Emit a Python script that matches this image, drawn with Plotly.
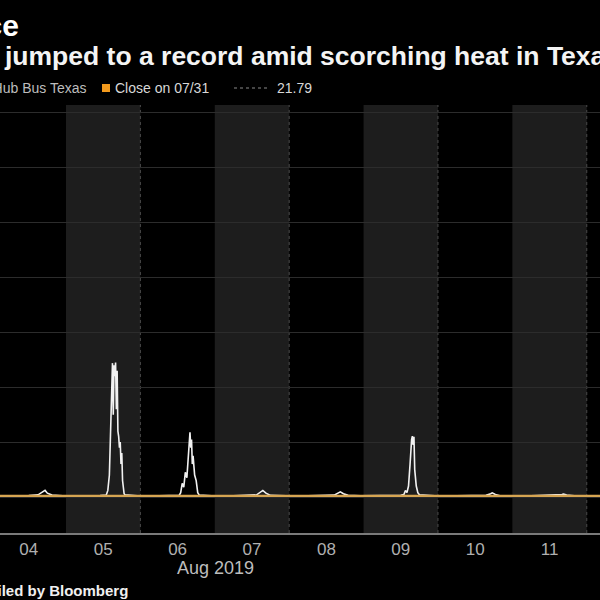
import plotly.graph_objects as go

# ---------------- data ----------------
times = [
    "2019-08-04 00:00", "2019-08-04 06:00", "2019-08-04 12:00", "2019-08-04 15:00",
    "2019-08-04 16:30", "2019-08-04 17:15", "2019-08-04 18:00", "2019-08-04 19:30",
    "2019-08-04 23:00",
    "2019-08-05 06:00", "2019-08-05 11:00", "2019-08-05 13:00", "2019-08-05 13:30",
    "2019-08-05 14:00", "2019-08-05 14:15", "2019-08-05 14:30", "2019-08-05 14:45",
    "2019-08-05 15:00", "2019-08-05 15:15", "2019-08-05 15:30", "2019-08-05 15:45",
    "2019-08-05 16:00", "2019-08-05 16:15", "2019-08-05 16:30", "2019-08-05 16:45",
    "2019-08-05 17:00", "2019-08-05 17:15", "2019-08-05 17:30", "2019-08-05 17:45",
    "2019-08-05 18:00", "2019-08-05 18:15", "2019-08-05 18:30", "2019-08-05 18:45",
    "2019-08-05 19:00", "2019-08-05 23:00",
    "2019-08-06 06:00", "2019-08-06 12:30", "2019-08-06 13:00", "2019-08-06 13:30",
    "2019-08-06 14:00", "2019-08-06 14:30", "2019-08-06 15:00", "2019-08-06 15:30",
    "2019-08-06 15:45", "2019-08-06 16:00", "2019-08-06 16:15", "2019-08-06 16:30",
    "2019-08-06 16:45", "2019-08-06 17:00", "2019-08-06 17:30", "2019-08-06 18:00",
    "2019-08-06 18:30", "2019-08-06 19:00", "2019-08-06 23:00",
    "2019-08-07 06:00", "2019-08-07 13:30", "2019-08-07 15:00", "2019-08-07 15:30",
    "2019-08-07 16:30", "2019-08-07 18:00", "2019-08-07 23:00",
    "2019-08-08 06:00", "2019-08-08 14:30", "2019-08-08 16:00", "2019-08-08 16:30",
    "2019-08-08 17:30", "2019-08-08 19:00", "2019-08-08 23:00",
    "2019-08-09 06:00", "2019-08-09 12:00", "2019-08-09 13:00", "2019-08-09 13:30",
    "2019-08-09 14:00", "2019-08-09 14:30", "2019-08-09 15:00", "2019-08-09 15:15",
    "2019-08-09 15:30", "2019-08-09 15:45", "2019-08-09 16:00", "2019-08-09 16:15",
    "2019-08-09 16:30", "2019-08-09 17:00", "2019-08-09 17:30", "2019-08-09 18:00",
    "2019-08-09 23:00",
    "2019-08-10 06:00", "2019-08-10 15:30", "2019-08-10 17:00", "2019-08-10 17:30",
    "2019-08-10 18:30", "2019-08-10 20:00",
    "2019-08-11 06:00", "2019-08-11 14:30", "2019-08-11 16:00", "2019-08-11 16:30",
    "2019-08-11 17:30", "2019-08-11 20:00", "2019-08-12 06:00",
]
prices = [
    22, 18, 25, 40,
    95, 120, 70, 35,
    22,
    20, 28, 35, 120,
    400, 900, 1300, 1900,
    2440, 1500, 2400, 2200,
    2450, 1600, 2300, 1200,
    1100, 900, 1000, 600,
    800, 300, 120, 60,
    40, 24,
    20, 30, 80, 250,
    180, 450, 350, 700,
    1000, 1180, 900, 1050,
    600, 750, 400, 300,
    80, 35, 22,
    20, 40, 90, 120,
    70, 30, 22,
    20, 35, 80, 95,
    60, 30, 22,
    20, 30, 45, 120,
    80, 200, 600, 900,
    1050, 1110, 950, 1100,
    500, 200, 80, 40,
    22,
    20, 30, 60, 75,
    45, 24,
    20, 30, 45, 55,
    35, 22, 22,
]
close_label = "Close on 07/31"
close_value = 21.79
day_ticks = ["2019-08-04 12:00", "2019-08-05 12:00", "2019-08-06 12:00", "2019-08-07 12:00",
             "2019-08-08 12:00", "2019-08-09 12:00", "2019-08-10 12:00", "2019-08-11 12:00",
             "2019-08-12 12:00"]
day_labels = ["04", "05", "06", "07", "08", "09", "10", "11", "12"]
shaded_days = [("2019-08-05", "2019-08-06"), ("2019-08-07", "2019-08-08"),
               ("2019-08-09", "2019-08-10"), ("2019-08-11", "2019-08-12")]
series_name = "Real-time price, ERCOT Hub Bus Texas"

# ---------------- layout helpers ----------------
W, H = 600, 600
TOP, BOTTOM = 105, 533


def px(xp):
    return xp / W


def py(yp):
    return (BOTTOM - yp) / (BOTTOM - TOP)


FONT = "Liberation Sans, Arial, sans-serif"

fig = go.Figure()
fig.add_trace(go.Scatter(x=times, y=prices, mode="lines",
                         line=dict(color="#f2f2f2", width=1.6), name=series_name,
                         showlegend=False, hoverinfo="skip"))

shapes = []
for d0, d1 in shaded_days:
    shapes.append(dict(type="rect", xref="x", yref="paper", x0=d0, x1=d1, y0=0, y1=1,
                       fillcolor="#1d1d1d", line=dict(width=0), layer="below"))
    shapes.append(dict(type="line", xref="x", yref="paper", x0=d1, x1=d1, y0=0, y1=1,
                       line=dict(color="#4a4a4a", width=1, dash="dot"), layer="below"))
# close reference line
shapes.append(dict(type="line", xref="paper", yref="y", x0=0, x1=1, y0=close_value, y1=close_value,
                   line=dict(color="#d6a552", width=2.2), layer="above"))
# legend marks
shapes.append(dict(type="rect", xref="paper", yref="paper", x0=px(102), x1=px(110),
                   y0=py(92), y1=py(84), fillcolor="#f29a1d", line=dict(width=0)))
shapes.append(dict(type="line", xref="paper", yref="paper", x0=px(234), x1=px(268),
                   y0=py(88), y1=py(88), line=dict(color="#8a8a8a", width=1.2, dash="dot")))

annotations = [
    dict(text="<b>Texas Power Price</b>", x=px(21), y=py(26), xanchor="right", yanchor="middle",
         font=dict(size=30, color="#ffffff", family=FONT)),
    dict(text="<b>jumped to a record amid scorching heat in Texas</b>", x=px(2), y=py(56),
         xanchor="left", yanchor="middle", font=dict(size=26.5, color="#f4f4f4", family=FONT)),
    dict(text=series_name, x=px(88), y=py(88), xanchor="right", yanchor="middle",
         font=dict(size=14, color="#bdbdbd", family=FONT)),
    dict(text=close_label, x=px(113), y=py(88), xanchor="left", yanchor="middle",
         font=dict(size=14, color="#d8d8d8", family=FONT)),
    dict(text=f"{close_value:.2f}", x=px(275), y=py(88), xanchor="left", yanchor="middle",
         font=dict(size=14, color="#d8d8d8", family=FONT)),
    dict(text="Aug 2019", x=px(215), y=py(568), xanchor="center", yanchor="middle",
         font=dict(size=18, color="#bdbdbd", family=FONT)),
    dict(text="<b>Source: ERCOT; Compiled by Bloomberg</b>", x=px(130), y=py(590),
         xanchor="right", yanchor="middle", font=dict(size=15, color="#f0f0f0", family=FONT)),
]
for a in annotations:
    a.update(xref="paper", yref="paper", showarrow=False)

fig.update_layout(
    width=W, height=H,
    margin=dict(l=0, r=0, t=TOP, b=H - BOTTOM, pad=0),
    paper_bgcolor="#000000", plot_bgcolor="#000000",
    showlegend=False,
    shapes=shapes, annotations=annotations,
    xaxis=dict(type="date", range=["2019-08-04 02:43", "2019-08-12 04:16"],
               tickvals=day_ticks, ticktext=day_labels, showgrid=False, zeroline=False,
               showline=True, linecolor="#7a7a7a", linewidth=2, ticks="",
               tickfont=dict(size=17, color="#b0b0b0", family=FONT)),
    yaxis=dict(range=[-656, 7145], dtick=1000, tick0=0, showgrid=True, gridcolor="#2c2c2c",
               gridwidth=1, zeroline=False, showticklabels=False, ticks=""),
)

fig.write_html("out.html", config={"displayModeBar": False},
               post_script="document.body.style.margin='0';document.body.style.background='#000';"
                           "document.body.style.overflow='hidden';")
